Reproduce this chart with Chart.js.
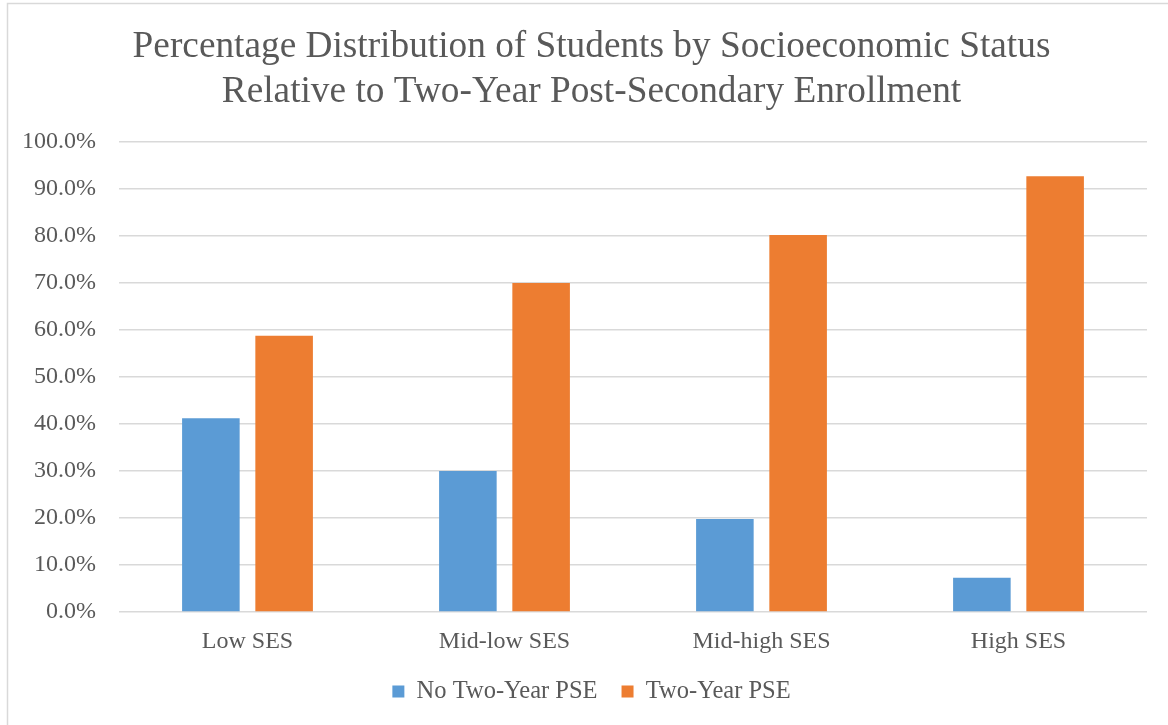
<!DOCTYPE html>
<html>
<head>
<meta charset="utf-8">
<script src="https://cdn.jsdelivr.net/npm/chart.js@4.4.1/dist/chart.umd.min.js"></script>
<style>
  html, body { margin: 0; padding: 0; background: #ffffff; }
  #wrap { position: absolute; left: 0; top: 0; width: 1168px; height: 725px; }
</style>
</head>
<body>
<div id="wrap"><canvas id="chart" width="1168" height="725"></canvas></div>
<script>
// Socioeconomic status groups
const categories = ['Low SES', 'Mid-low SES', 'Mid-high SES', 'High SES'];
// Percent of students in each group
const noTwoYearPSE = [41.2, 30.0, 19.8, 7.3];
const twoYearPSE = [58.8, 70.0, 80.2, 92.7];
const seriesNames = ['No Two-Year PSE', 'Two-Year PSE'];
const titleLines = ['Percentage Distribution of Students by Socioeconomic Status',
                    'Relative to Two-Year Post-Secondary Enrollment'];

const SERIF = '"Liberation Serif", "Times New Roman", Times, serif';
const TEXT = '#595959';
const GRID = '#D9D9D9';

// White background with a thin outer frame
const framePlugin = {
  id: 'frame',
  beforeDraw(chart) {
    const ctx = chart.ctx;
    ctx.save();
    ctx.fillStyle = '#ffffff';
    ctx.fillRect(0, 0, chart.width, chart.height);
    ctx.strokeStyle = GRID;
    ctx.lineWidth = 1.5;
    ctx.strokeRect(7.5, 3.5, chart.width + 20, chart.height + 20);
    ctx.restore();
  }
};

// Center the title and legend over the frame rather than the full canvas
const centerBlocks = {
  id: 'centerBlocks',
  afterLayout(chart) {
    const inset = 36;
    if (chart.titleBlock) chart.titleBlock.left = inset;
    if (chart.legend) chart.legend.left = inset;
  }
};

new Chart(document.getElementById('chart'), {
  type: 'bar',
  data: {
    labels: categories,
    datasets: [
      { label: seriesNames[0], data: noTwoYearPSE, backgroundColor: '#5B9BD5',
        barPercentage: 0.786, categoryPercentage: 0.57 },
      { label: seriesNames[1], data: twoYearPSE, backgroundColor: '#ED7D31',
        barPercentage: 0.786, categoryPercentage: 0.57 }
    ]
  },
  options: {
    responsive: false,
    devicePixelRatio: 1,
    animation: false,
    layout: { padding: { left: 0, right: 21, top: 0, bottom: 11.25 } },
    plugins: {
      title: {
        display: true,
        text: titleLines,
        color: TEXT,
        font: { family: SERIF, size: 37.3, weight: 'normal', lineHeight: 1.2 },
        padding: { top: 25.2, bottom: 27.3 }
      },
      legend: {
        position: 'bottom',
        labels: {
          color: TEXT,
          font: { family: SERIF, size: 24.5 },
          boxWidth: 12,
          boxHeight: 12,
          padding: 24
        }
      },
      tooltip: { enabled: false }
    },
    scales: {
      x: {
        afterFit(scale) { scale.height = 43.25; },
        grid: { display: false },
        border: { display: false },
        ticks: { color: TEXT, font: { family: SERIF, size: 24 }, padding: 7 }
      },
      y: {
        min: 0,
        max: 100,
        afterFit(scale) { scale.width = 119; },
        grid: { color: GRID, lineWidth: 1.5, drawTicks: false },
        border: { display: false },
        ticks: {
          stepSize: 10,
          color: TEXT,
          padding: 23,
          font: { family: SERIF, size: 24 },
          callback: (v) => v.toFixed(1) + '%'
        }
      }
    }
  },
  plugins: [framePlugin, centerBlocks]
});
</script>
</body>
</html>
